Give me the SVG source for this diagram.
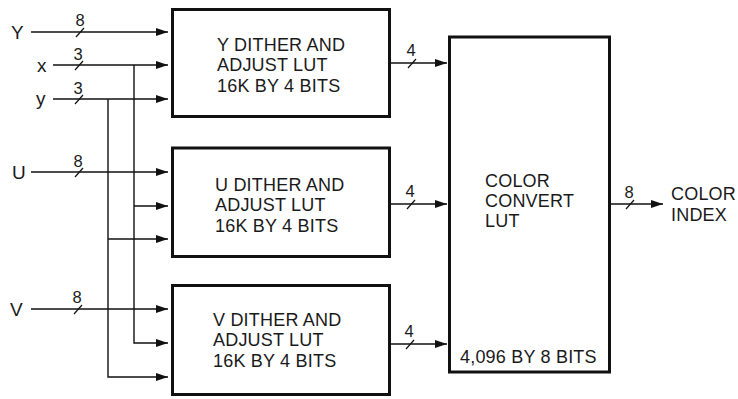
<svg xmlns="http://www.w3.org/2000/svg" width="738" height="399" viewBox="0 0 738 399">
<style>
.box{fill:none;stroke:#111;stroke-width:3}
.ln{fill:none;stroke:#111;stroke-width:1.4}
.sl{fill:none;stroke:#111;stroke-width:1.2}
text{font-family:"Liberation Sans",Arial,sans-serif;fill:#1a1a1a}
.t{font-size:18px;letter-spacing:0.2px}
.l{font-size:19px}
.n{font-size:16.5px;text-anchor:middle}
</style>
<defs>
<marker id="ah" viewBox="0 0 12 8" refX="12" refY="4" markerWidth="12" markerHeight="8" markerUnits="userSpaceOnUse" orient="auto">
<path d="M0,0 L12,4 L0,8 z" fill="#111"/>
</marker>
</defs>
<rect width="738" height="399" fill="#fff"/>
<g id="connectors">
<line class="ln" x1="31" y1="32" x2="168" y2="32" marker-end="url(#ah)"/>
<line class="ln" x1="53" y1="65" x2="168" y2="65" marker-end="url(#ah)"/>
<line class="ln" x1="53" y1="99" x2="168" y2="99" marker-end="url(#ah)"/>
<line class="ln" x1="31" y1="172" x2="168" y2="172" marker-end="url(#ah)"/>
<line class="ln" x1="31" y1="309" x2="168" y2="309" marker-end="url(#ah)"/>
<polyline class="ln" points="134,65 134,343 168,343" marker-end="url(#ah)"/>
<polyline class="ln" points="108,99 108,377 168,377" marker-end="url(#ah)"/>
<line class="ln" x1="134" y1="206" x2="168" y2="206" marker-end="url(#ah)"/>
<line class="ln" x1="108" y1="239" x2="168" y2="239" marker-end="url(#ah)"/>
<line class="ln" x1="390" y1="63" x2="447" y2="63" marker-end="url(#ah)"/>
<line class="ln" x1="390" y1="204" x2="447" y2="204" marker-end="url(#ah)"/>
<line class="ln" x1="390" y1="344" x2="447" y2="344" marker-end="url(#ah)"/>
<line class="ln" x1="609" y1="204" x2="663" y2="204" marker-end="url(#ah)"/>
<line class="sl" x1="76" y1="37" x2="84" y2="28"/>
<line class="sl" x1="75" y1="70" x2="83" y2="61"/>
<line class="sl" x1="75" y1="104" x2="83" y2="95"/>
<line class="sl" x1="75" y1="177" x2="83" y2="168"/>
<line class="sl" x1="74" y1="314" x2="82" y2="305"/>
<line class="sl" x1="408" y1="68" x2="416" y2="59"/>
<line class="sl" x1="407" y1="209" x2="415" y2="200"/>
<line class="sl" x1="406" y1="349" x2="414" y2="340"/>
<line class="sl" x1="626" y1="209" x2="634" y2="200"/>
<text class="n" x="80" y="26">8</text>
<text class="n" x="78" y="60">3</text>
<text class="n" x="78" y="94">3</text>
<text class="n" x="78" y="167">8</text>
<text class="n" x="77" y="303">8</text>
<text class="n" x="411" y="56">4</text>
<text class="n" x="410" y="197">4</text>
<text class="n" x="409" y="337">4</text>
<text class="n" x="629" y="198">8</text>
</g>
<g id="inputs">
<text class="l" x="11" y="39">Y</text>
<text class="l" x="37" y="72">x</text>
<text class="l" x="36" y="105">y</text>
<text class="l" x="12" y="179">U</text>
<text class="l" x="10" y="316">V</text>
</g>
<g id="y-lut">
<rect class="box" x="172.5" y="9.5" width="217" height="107"/>
<text class="t" x="217" y="51">Y DITHER AND</text>
<text class="t" x="217" y="71">ADJUST LUT</text>
<text class="t" x="217" y="92">16K BY 4 BITS</text>
</g>
<g id="u-lut">
<rect class="box" x="172.5" y="148" width="217" height="108.5"/>
<text class="t" x="215" y="191">U DITHER AND</text>
<text class="t" x="215" y="211">ADJUST LUT</text>
<text class="t" x="215" y="232">16K BY 4 BITS</text>
</g>
<g id="v-lut">
<rect class="box" x="172.5" y="285.5" width="217" height="109"/>
<text class="t" x="213" y="326">V DITHER AND</text>
<text class="t" x="213" y="346">ADJUST LUT</text>
<text class="t" x="213" y="367">16K BY 4 BITS</text>
</g>
<g id="color-lut">
<rect class="box" x="449.5" y="37" width="160" height="335"/>
<text class="t" x="485" y="187">COLOR</text>
<text class="t" x="485" y="207">CONVERT</text>
<text class="t" x="485" y="227">LUT</text>
<text class="t" x="460" y="363">4,096 BY 8 BITS</text>
</g>
<g id="color-index">
<text class="t" x="671" y="200">COLOR</text>
<text class="t" x="671" y="221">INDEX</text>
</g>
</svg>
